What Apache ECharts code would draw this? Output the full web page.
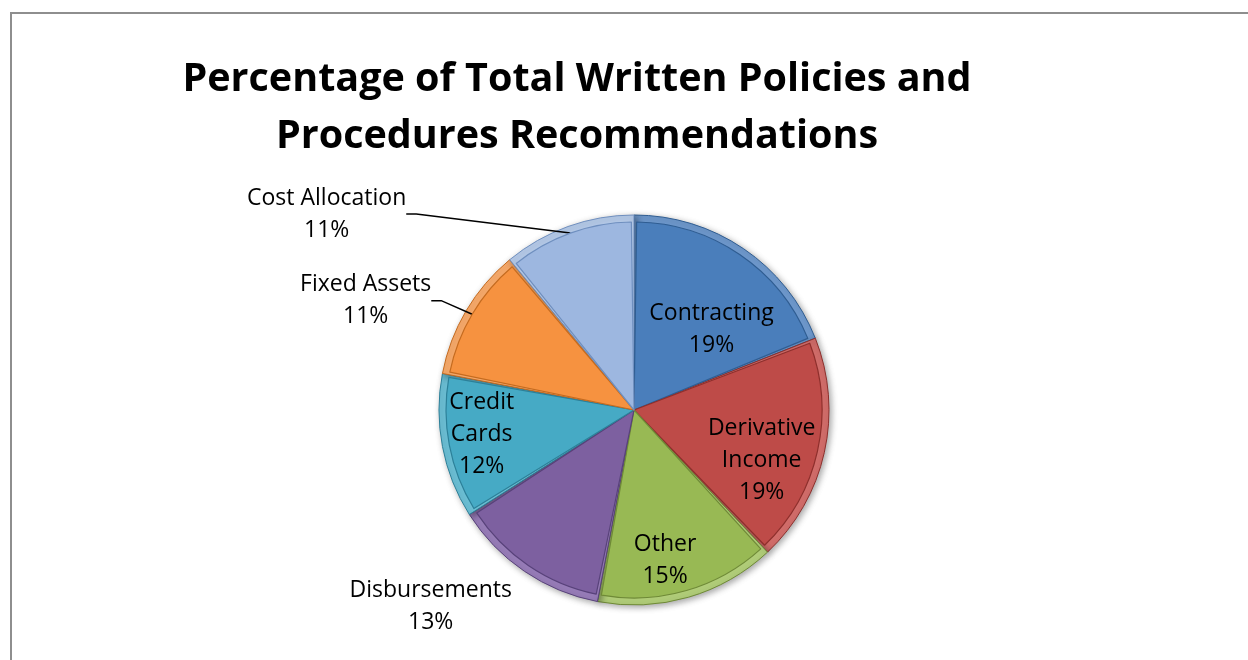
<!DOCTYPE html>
<html>
<head>
<meta charset="utf-8">
<script src="https://cdn.jsdelivr.net/npm/echarts@6/dist/echarts.min.js"></script>
<style>
  html, body { margin: 0; padding: 0; background: #fff; overflow: hidden; }
  #chart { width: 1248px; height: 660px; }
</style>
</head>
<body>
<div id="chart"></div>
<script>
// Recommendation categories and their share of the total (percent)
const categories = ['Contracting', 'Derivative Income', 'Other', 'Disbursements', 'Credit Cards', 'Fixed Assets', 'Cost Allocation'];
const shares = [19, 19, 15, 13, 12, 11, 11];

// Slice palette: face colour, bevel rim colour, edge line colour
const faceColors = ['#4a7ebb', '#be4b48', '#98b954', '#7d60a0', '#46aac5', '#f69240', '#9db7e0'];
const rimColors  = ['#6e98cc', '#d06c69', '#b0cc78', '#977cb8', '#6cc0d6', '#f9ab6b', '#b6cbea'];
const edgeColors = ['#2f5d92', '#8e2f2c', '#6f8a37', '#58427a', '#2c8099', '#c56b1f', '#6f8fbf'];

// Which labels sit on the slice, and which sit outside with a leader line
const insideLabels = ['Contracting', 'Derivative Income', 'Other', 'Credit Cards'];
const noLeaderLine = ['Disbursements'];

// Nudges applied to each label relative to the default placement
const labelNudge = {
  'Contracting': [23, 0],
  'Derivative Income': [33, 29],
  'Other': [4, 57],
  'Credit Cards': [-57, 6],
  'Cost Allocation': [-144, -5],
  'Fixed Assets': [-13, -6],
  'Disbursements': [7, 29]
};

const FONT = '"Open Sans", "Noto Sans", sans-serif';

const rimData = categories.map((name, i) => ({
  name, value: shares[i],
  itemStyle: { color: rimColors[i], borderColor: edgeColors[i], borderWidth: 1 }
}));

const faceData = categories.map((name, i) => {
  const inside = insideLabels.includes(name);
  return {
    name, value: shares[i],
    itemStyle: { color: faceColors[i], borderColor: edgeColors[i], borderWidth: 1.2 },
    label: { position: inside ? 'inside' : 'outside' },
    labelLine: { show: !inside && !noLeaderLine.includes(name) }
  };
});

const chart = echarts.init(document.getElementById('chart'), null, { renderer: 'canvas' });

chart.setOption({
  backgroundColor: '#ffffff',
  animation: false,
  title: {
    text: 'Percentage of Total Written Policies and\nProcedures Recommendations',
    left: 577,
    top: 51,
    padding: 0,
    textAlign: 'center',
    textStyle: {
      fontFamily: FONT,
      fontWeight: 'bold',
      fontSize: 39.5,
      lineHeight: 57,
      color: '#000'
    }
  },
  graphic: [{
    type: 'rect',
    silent: true,
    shape: { x: 11, y: 13, width: 1400, height: 800 },
    style: { fill: 'none', stroke: '#8e8e8e', lineWidth: 2 }
  }],
  series: [
    {
      // Bevel rim underneath each slice
      type: 'pie',
      z: 1,
      silent: true,
      center: [634, 410],
      radius: [0, 195],
      startAngle: 90,
      clockwise: true,
      label: { show: false },
      labelLine: { show: false },
      itemStyle: {
        shadowBlur: 6,
        shadowOffsetX: 2,
        shadowOffsetY: 2,
        shadowColor: 'rgba(0,0,0,0.35)'
      },
      data: rimData
    },
    {
      // Slice faces with labels
      type: 'pie',
      z: 2,
      silent: true,
      center: [634, 410],
      radius: [0, 188],
      startAngle: 90,
      clockwise: true,
      padAngle: 1.6,
      label: {
        show: true,
        fontFamily: FONT,
        fontSize: 23,
        lineHeight: 32,
        color: '#000',
        formatter: function (p) {
          const name = insideLabels.includes(p.name) ? p.name.replace(' ', '\n') : p.name;
          return name + '\n' + p.value + '%';
        }
      },
      labelLine: {
        show: true,
        length: 15,
        length2: 10,
        lineStyle: { color: '#000', width: 1.5 }
      },
      labelLayout: function (params) {
        const name = categories[params.dataIndex];
        const nudge = labelNudge[name] || [0, 0];
        const r = params.labelRect;
        return {
          x: r.x + r.width / 2 + nudge[0],
          y: r.y + r.height / 2 + nudge[1],
          align: 'center',
          verticalAlign: 'middle'
        };
      },
      data: faceData
    }
  ]
});
</script>
</body>
</html>
